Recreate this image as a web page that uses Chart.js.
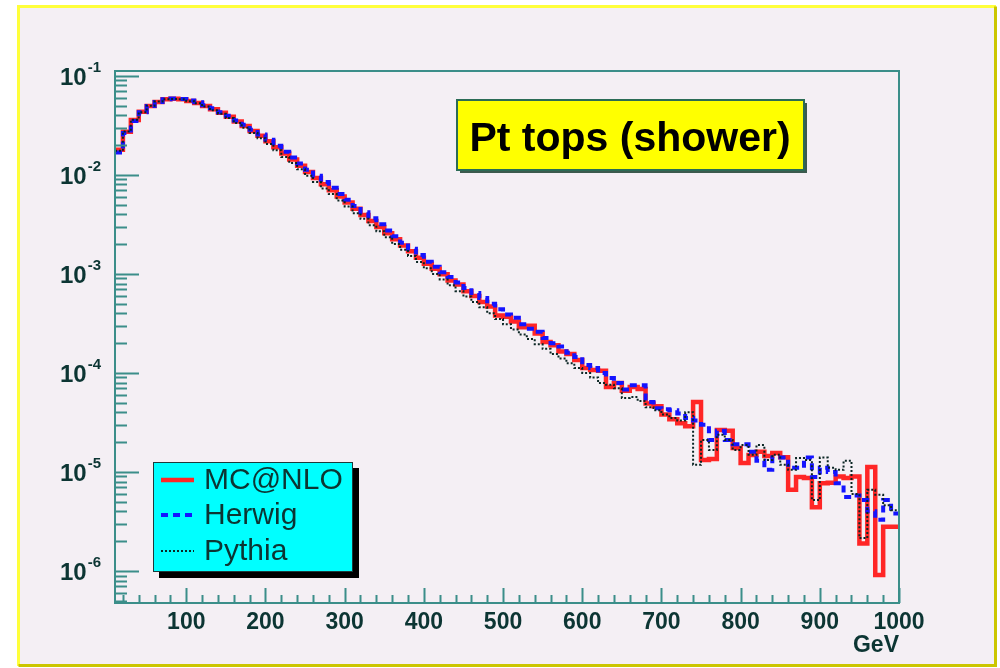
<!DOCTYPE html>
<html>
<head>
<meta charset="utf-8">
<title>Pt tops (shower)</title>
<script src="https://cdn.jsdelivr.net/npm/chart.js@4.4.0/dist/chart.umd.min.js"></script>
<style>
  html, body { margin: 0; padding: 0; background: #fff; }
  #wrap { width: 1000px; height: 668px; }
</style>
</head>
<body>
<div id="wrap"><canvas id="chart-pt" width="1000" height="668"></canvas></div>
<script>
// histogram binning: 10 GeV bins, first bin starts at 10 GeV
const binStart = 10;
const binWidth = 10;

// normalised Pt of the top quarks, one value per bin
const mcnlo = [
  1.79e-2, 2.72e-2, 3.59e-2, 4.33e-2, 4.97e-2, 5.46e-2, 5.79e-2, 5.86e-2, 5.79e-2, 5.59e-2,
  5.33e-2, 4.97e-2, 4.59e-2, 4.23e-2, 3.86e-2, 3.47e-2, 3.12e-2, 2.78e-2, 2.48e-2, 2.19e-2,
  1.90e-2, 1.64e-2, 1.43e-2, 1.24e-2, 1.07e-2, 9.3e-3, 8.05e-3, 7.0e-3, 6.05e-3, 5.25e-3,
  4.55e-3, 3.94e-3, 3.43e-3, 2.97e-3, 2.58e-3, 2.24e-3, 1.94e-3, 1.69e-3, 1.46e-3, 1.27e-3,
  1.13e-3, 9.9e-4, 8.6e-4, 7.8e-4, 6.7e-4, 6.0e-4, 5.2e-4, 4.7e-4, 3.8e-4, 3.7e-4,
  3.3e-4, 2.9e-4, 3.0e-4, 2.5e-4, 2.05e-4, 1.9e-4, 1.65e-4, 1.55e-4, 1.35e-4, 1.12e-4,
  1.07e-4, 1.05e-4, 7.2e-5, 7.9e-5, 6.6e-5, 7.2e-5, 6.9e-5, 4.9e-5, 4.6e-5, 3.8e-5,
  3.4e-5, 3.1e-5, 2.9e-5, 5.1e-5, 1.32e-5, 1.35e-5, 2.65e-5, 2.6e-5, 1.75e-5, 1.23e-5,
  1.48e-5, 1.6e-5, 1.45e-5, 1.55e-5, 1.41e-5, 6.6e-6, 8.9e-6, 8.7e-6, 4.4e-6, 7.7e-6,
  7.8e-6, 9.0e-6, 8.7e-6, 9.0e-6, 1.9e-6, 1.12e-5, 9.1e-7, 2.8e-6, 2.8e-6
];
const herwig = [
  1.68e-2, 2.65e-2, 3.5e-2, 4.3e-2, 4.95e-2, 5.45e-2, 5.8e-2, 5.9e-2, 5.85e-2, 5.65e-2,
  5.4e-2, 5.05e-2, 4.7e-2, 4.3e-2, 3.95e-2, 3.55e-2, 3.2e-2, 2.86e-2, 2.56e-2, 2.27e-2,
  1.97e-2, 1.71e-2, 1.5e-2, 1.3e-2, 1.13e-2, 9.8e-3, 8.5e-3, 7.4e-3, 6.4e-3, 5.6e-3,
  4.85e-3, 4.2e-3, 3.65e-3, 3.17e-3, 2.75e-3, 2.4e-3, 2.07e-3, 1.8e-3, 1.55e-3, 1.33e-3,
  1.18e-3, 1.04e-3, 9.3e-4, 8.2e-4, 7.2e-4, 6.4e-4, 5.7e-4, 5.0e-4, 4.4e-4, 3.9e-4,
  3.6e-4, 3.1e-4, 2.8e-4, 2.6e-4, 2.25e-4, 2.0e-4, 1.85e-4, 1.6e-4, 1.45e-4, 1.2e-4,
  1.12e-4, 1.0e-4, 8.9e-5, 7.9e-5, 6.8e-5, 7.5e-5, 7.5e-5, 5.1e-5, 4.4e-5, 4.3e-5,
  4.2e-5, 3.9e-5, 3.5e-5, 3.3e-5, 3.0e-5, 2.1e-5, 2.6e-5, 2.1e-5, 1.9e-5, 1.9e-5,
  1.6e-5, 1.3e-5, 1.05e-5, 1.4e-5, 1.4e-5, 1.1e-5, 1.1e-5, 1.4e-5, 8.9e-6, 1.1e-5,
  1.0e-5, 7.7e-6, 5.6e-6, 5.8e-6, 5.2e-6, 4.0e-6, 3.3e-6, 5.2e-6, 3.8e-6
];
const pythia = [
  1.75e-2, 2.75e-2, 3.6e-2, 4.3e-2, 5.0e-2, 5.5e-2, 5.8e-2, 5.85e-2, 5.8e-2, 5.55e-2,
  5.3e-2, 4.9e-2, 4.5e-2, 4.15e-2, 3.75e-2, 3.35e-2, 3.0e-2, 2.65e-2, 2.35e-2, 2.05e-2,
  1.77e-2, 1.52e-2, 1.32e-2, 1.14e-2, 9.8e-3, 8.5e-3, 7.3e-3, 6.4e-3, 5.5e-3, 4.8e-3,
  4.1e-3, 3.6e-3, 3.1e-3, 2.7e-3, 2.35e-3, 2.0e-3, 1.75e-3, 1.52e-3, 1.32e-3, 1.14e-3,
  1.0e-3, 8.8e-4, 7.7e-4, 6.7e-4, 5.9e-4, 5.2e-4, 4.6e-4, 4.0e-4, 3.5e-4, 3.1e-4,
  2.75e-4, 2.45e-4, 2.2e-4, 1.95e-4, 1.75e-4, 1.55e-4, 1.4e-4, 1.25e-4, 1.12e-4, 1.0e-4,
  9.0e-5, 7.9e-5, 7.6e-5, 7.0e-5, 5.6e-5, 5.7e-5, 5.2e-5, 4.5e-5, 4.2e-5, 3.8e-5,
  3.5e-5, 3.3e-5, 4.0e-5, 1.18e-5, 2.1e-5, 1.67e-5, 2.37e-5, 2.1e-5, 1.67e-5, 1.87e-5,
  1.49e-5, 1.87e-5, 1.32e-5, 1.49e-5, 1.18e-5, 1.05e-5, 1.38e-5, 1.32e-5, 5.2e-6, 1.4e-5,
  1.1e-5, 1.05e-5, 1.3e-5, 6.0e-6, 2.15e-6, 6.6e-6, 5.9e-6, 4.6e-6, 4.1e-6
];

// axes
const xMin = 10, xMax = 1000;
const yMin = 4.75e-7, yMax = 0.112;
const xLabelValues = [100, 200, 300, 400, 500, 600, 700, 800, 900, 1000];
const yDecades = [-1, -2, -3, -4, -5, -6];

const FONT = "'Liberation Sans', Arial, Helvetica, sans-serif";
const AXIS_COLOR = '#3b8e89';
const TEXT_COLOR = '#0c3533';

// step histogram: one point per low edge, plus the upper edge of the last bin
function histPoints(values) {
  const pts = values.map((v, i) => ({ x: binStart + i * binWidth, y: v }));
  pts.push({ x: binStart + values.length * binWidth, y: values[values.length - 1] });
  return pts;
}

// ROOT-like canvas: yellow pad frame, inward ticks, title box and legend box
const rootFrame = {
  id: 'rootFrame',
  beforeDraw(chart) {
    const c = chart.ctx;
    c.save();
    c.fillStyle = '#ffffff';
    c.fillRect(0, 0, chart.width, chart.height);
    c.fillStyle = '#f4eff4';
    c.fillRect(18, 5, 978, 661);
    c.lineWidth = 3;
    c.strokeStyle = '#ffff3a';
    c.beginPath();
    c.moveTo(18.5, 666); c.lineTo(18.5, 6.5); c.lineTo(996, 6.5);
    c.stroke();
    c.strokeStyle = '#cbc600';
    c.beginPath();
    c.moveTo(995.5, 6.5); c.lineTo(995.5, 665.5); c.lineTo(18.5, 665.5);
    c.stroke();
    c.restore();
  },
  afterDatasetsDraw(chart) {
    const c = chart.ctx;
    const a = chart.chartArea;
    const xs = chart.scales.x, ys = chart.scales.y;
    c.save();
    c.strokeStyle = AXIS_COLOR;
    c.lineWidth = 2;
    c.strokeRect(a.left, a.top, a.right - a.left, a.bottom - a.top);

    c.beginPath();
    xs.ticks.forEach(t => {
      const px = Math.round(xs.getPixelForValue(t.value)) + 0.5;
      const len = t.value % 100 === 0 ? 15 : 8;
      c.moveTo(px, a.bottom);
      c.lineTo(px, a.bottom - len);
    });
    ys.ticks.forEach(t => {
      const py = Math.round(ys.getPixelForValue(t.value)) + 0.5;
      const len = t.major ? 24 : 12;
      c.moveTo(a.left, py);
      c.lineTo(a.left + len, py);
    });
    c.stroke();
    c.restore();
  },
  afterDraw(chart) {
    const c = chart.ctx;
    const ys = chart.scales.y;
    c.save();

    // decade labels 10^n
    c.fillStyle = TEXT_COLOR;
    c.textBaseline = 'alphabetic';
    c.textAlign = 'right';
    yDecades.forEach(e => {
      const py = ys.getPixelForValue(Math.pow(10, e));
      c.font = 'bold 15px ' + FONT;
      const exp = String(e);
      c.fillText(exp, 101, py - 4);
      const w = c.measureText(exp).width;
      c.font = 'bold 24px ' + FONT;
      c.fillText('10', 101 - w - 1, py + 9);
    });

    // title box
    c.fillStyle = '#3c5a4e';
    c.fillRect(460, 103, 347, 70);
    c.fillStyle = '#ffff00';
    c.fillRect(457, 100, 347, 70);
    c.strokeStyle = '#2b6b55';
    c.lineWidth = 2;
    c.strokeRect(457, 100, 347, 70);
    c.fillStyle = '#000000';
    c.textAlign = 'center';
    c.font = 'bold 41px ' + FONT;
    c.fillText('Pt tops (shower)', 630, 151);

    // legend box
    c.fillStyle = '#000000';
    c.fillRect(159, 468, 200, 110);
    c.fillStyle = '#00ffff';
    c.fillRect(153, 462, 200, 110);
    c.strokeStyle = '#1d3a3a';
    c.lineWidth = 1;
    c.strokeRect(153.5, 462.5, 199, 109);

    const rows = [480, 515, 551];
    c.textAlign = 'left';
    c.textBaseline = 'middle';
    chart.data.datasets.forEach((ds, i) => {
      const y = rows[i];
      c.strokeStyle = ds.borderColor;
      c.lineWidth = ds.borderWidth;
      c.setLineDash(ds.borderDash || []);
      c.beginPath();
      c.moveTo(161, y);
      c.lineTo(194, y);
      c.stroke();
      c.setLineDash([]);
      c.fillStyle = TEXT_COLOR;
      c.font = '30px ' + FONT;
      c.fillText(ds.label, 204, y + 1);
    });
    c.restore();
  }
};

const ctx = document.getElementById('chart-pt').getContext('2d');
new Chart(ctx, {
  type: 'line',
  data: {
    datasets: [
      // 'before': each bin's value is held across [low edge, high edge]
      { label: 'MC@NLO', data: histPoints(mcnlo), borderColor: '#ff2626', borderWidth: 4.5,
        stepped: 'before', pointRadius: 0, fill: false, order: 3 },
      { label: 'Herwig', data: histPoints(herwig), borderColor: '#1414ff', borderWidth: 4,
        borderDash: [7, 5], stepped: 'before', pointRadius: 0, fill: false, order: 2 },
      { label: 'Pythia', data: histPoints(pythia), borderColor: '#0b2624', borderWidth: 2,
        borderDash: [2, 2], stepped: 'before', pointRadius: 0, fill: false, order: 1 }
    ]
  },
  options: {
    responsive: false,
    animation: false,
    devicePixelRatio: 1,
    layout: { padding: { left: 0, top: 71, right: 101, bottom: 0 } },
    plugins: { legend: { display: false }, tooltip: { enabled: false } },
    scales: {
      x: {
        type: 'linear', min: xMin, max: xMax,
        grid: { display: false }, border: { display: false },
        afterBuildTicks: s => {
          const t = [];
          for (let v = 20; v <= xMax; v += 20) t.push({ value: v });
          s.ticks = t;
        },
        afterFit: s => { s.height = 65; },
        ticks: {
          autoSkip: false, maxRotation: 0, padding: -2, color: TEXT_COLOR,
          font: { family: FONT, size: 23, weight: 'bold' },
          callback: v => xLabelValues.includes(v) ? String(v) : ''
        },
        title: {
          display: true, text: 'GeV', align: 'end', color: TEXT_COLOR,
          font: { family: FONT, size: 23, weight: 'bold' },
          padding: { top: 0, bottom: 9 }
        }
      },
      y: {
        type: 'logarithmic', min: yMin, max: yMax,
        grid: { display: false }, border: { display: false },
        afterBuildTicks: s => {
          const t = [];
          for (let e = -7; e <= -1; e++) {
            for (let m = 1; m <= 9; m++) {
              const v = m * Math.pow(10, e);
              if (v >= yMin && v <= yMax) t.push({ value: v, major: m === 1 });
            }
          }
          s.ticks = t;
        },
        afterFit: s => { s.width = 115; },
        ticks: { display: false }
      }
    }
  },
  plugins: [rootFrame]
});
</script>
</body>
</html>
